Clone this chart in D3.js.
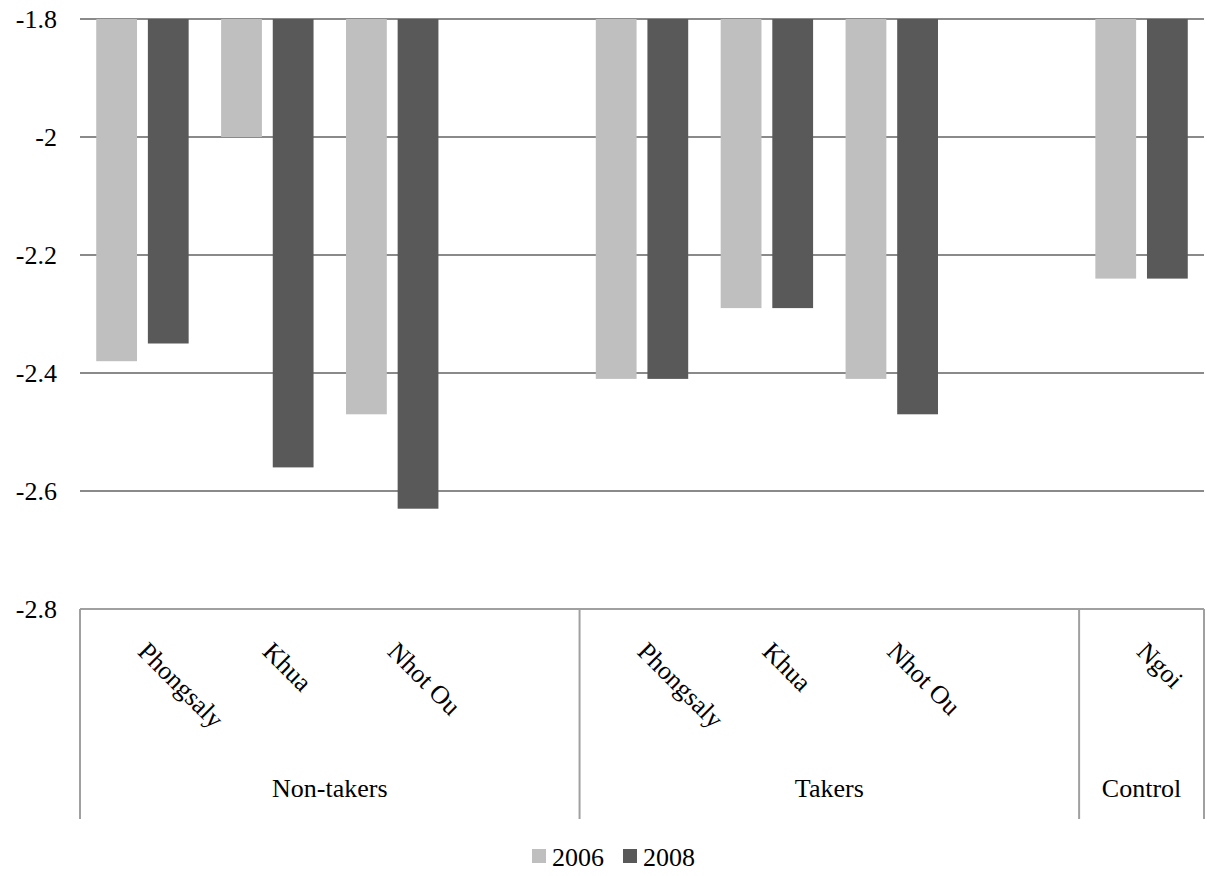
<!DOCTYPE html>
<html>
<head>
<meta charset="utf-8">
<script src="https://cdn.jsdelivr.net/npm/d3@7"></script>
<style>
  html, body { margin: 0; padding: 0; background: #fff; }
  svg text { font-family: "Liberation Serif", Tinos, "Times New Roman", Times, "DejaVu Serif", "Noto Serif", serif; fill: #000; }
</style>
</head>
<body>
<svg id="chart" width="1207" height="876"></svg>
<script>
// ---- data ----
const categories = ["Phongsaly", "Khua", "Nhot Ou", "", "Phongsaly", "Khua", "Nhot Ou", "", "Ngoi"];
const groupOf    = ["Non-takers", "Non-takers", "Non-takers", "Non-takers", "Takers", "Takers", "Takers", "Takers", "Control"];
const groups     = ["Non-takers", "Takers", "Control"];
const seriesNames = ["2006", "2008"];
const values2006 = [-2.38, -2.00, -2.47, null, -2.41, -2.29, -2.41, null, -2.24];
const values2008 = [-2.35, -2.56, -2.63, null, -2.41, -2.29, -2.47, null, -2.24];
const yTicks = [-1.8, -2, -2.2, -2.4, -2.6, -2.8];
const colors = ["#bfbfbf", "#595959"];

// ---- layout ----
const FONT = '"Liberation Serif", Tinos, "Times New Roman", Times, "DejaVu Serif", "Noto Serif", serif';
const plotL = 80, plotR = 1204, plotT = 19, plotB = 609;
const svg = d3.select("#chart").attr("font-family", FONT);

const x = d3.scaleBand().domain(d3.range(categories.length)).range([plotL, plotR]).padding(0);
const xs = d3.scaleBand().domain(seriesNames)
  .range([x.bandwidth() * 0.13, x.bandwidth() * 0.87]).paddingInner(0.21);
const y = d3.scaleLinear().domain([-1.8, -2.8]).range([plotT, plotB]);

// gridlines
svg.append("g").selectAll("line").data(yTicks.slice(0, -1)).join("line")
  .attr("x1", plotL).attr("x2", plotR)
  .attr("y1", d => y(d)).attr("y2", d => y(d))
  .attr("stroke", "#8a8a8a").attr("stroke-width", 2);

// y axis labels
const yAxis = d3.axisLeft(y).tickValues(yTicks).tickFormat(d => String(d)).tickSize(0).tickPadding(23);
const gy = svg.append("g").attr("transform", `translate(${plotL},0)`).call(yAxis)
  .attr("font-family", FONT).attr("font-size", 26);
gy.select(".domain").remove();
gy.selectAll("text").attr("fill", "#000");

// bars
const seriesData = [values2006, values2008];
seriesData.forEach((vals, si) => {
  svg.append("g").selectAll("rect")
    .data(vals.map((v, i) => ({ v, i })).filter(d => d.v !== null))
    .join("rect")
    .attr("x", d => x(d.i) + xs(seriesNames[si]))
    .attr("width", xs.bandwidth())
    .attr("y", y(-1.8))
    .attr("height", d => y(d.v) - y(-1.8))
    .attr("fill", colors[si]);
});

// category axis (bottom line + group separators)
svg.append("line").attr("x1", plotL).attr("x2", plotR).attr("y1", plotB).attr("y2", plotB)
  .attr("stroke", "#a0a0a0").attr("stroke-width", 2);

const groupSpans = groups.map(g => {
  const idx = groupOf.map((d, i) => d === g ? i : -1).filter(i => i >= 0);
  return { name: g, x0: x(idx[0]), x1: x(idx[idx.length - 1]) + x.bandwidth() };
});
const seps = [plotL].concat(groupSpans.map(g => g.x1));
svg.append("g").selectAll("line").data(seps).join("line")
  .attr("x1", d => d).attr("x2", d => d)
  .attr("y1", plotB).attr("y2", 819)
  .attr("stroke", "#a0a0a0").attr("stroke-width", 2);

// rotated category labels
svg.append("g").selectAll("text").data(categories.map((c, i) => ({ c, i })).filter(d => d.c !== ""))
  .join("text")
  .attr("transform", d => `translate(${x(d.i) + x.bandwidth() / 2 - 6},653) rotate(45)`)
  .attr("text-anchor", "start")
  .attr("font-size", 26)
  .text(d => d.c);

// group labels
svg.append("g").selectAll("text").data(groupSpans).join("text")
  .attr("x", d => (d.x0 + d.x1) / 2).attr("y", 797)
  .attr("text-anchor", "middle")
  .attr("font-size", 26)
  .text(d => d.name);

// legend
const legendX = [532, 623];
const lg = svg.append("g");
seriesNames.forEach((s, i) => {
  lg.append("rect").attr("x", legendX[i]).attr("y", 849).attr("width", 14).attr("height", 14).attr("fill", colors[i]);
  lg.append("text").attr("x", legendX[i] + 20).attr("y", 866).attr("font-size", 26).text(s);
});
</script>
</body>
</html>
